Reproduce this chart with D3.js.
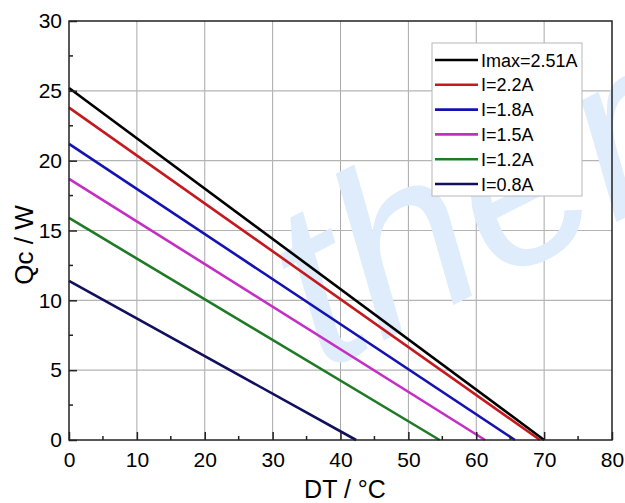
<!DOCTYPE html>
<html>
<head>
<meta charset="utf-8">
<script src="https://cdn.jsdelivr.net/npm/d3@7"></script>
<style>
  body { margin: 0; background: #fff; }
  text { font-family: "Liberation Sans", Arial, sans-serif; }
</style>
</head>
<body>
<div class="chartArea"></div>
<script>
// series: Qc at DT=0 and DT where Qc reaches 0
const seriesNames = ['Imax=2.51A', 'I=2.2A', 'I=1.8A', 'I=1.5A', 'I=1.2A', 'I=0.8A']
const qcAtZero = [25.2, 23.8, 21.2, 18.7, 15.9, 11.4]
const dtAtZero = [70.0, 69.4, 65.7, 61.3, 54.6, 42.3]
const colors = ['#000000', '#c41a1f', '#1313b4', '#c42ec4', '#1f7a26', '#10105c']
const xTicks = [0, 10, 20, 30, 40, 50, 60, 70, 80]
const yTicks = [0, 5, 10, 15, 20, 25, 30]

let width = 625,
    height = 503,
    plotLeft = 69,
    plotRight = 612,
    plotTop = 21,
    plotBottom = 440

const svg = d3.select('.chartArea')
    .append('svg')
    .attr('width', width)
    .attr('height', height)

const xScale = d3.scaleLinear().domain([0, 80]).range([plotLeft, plotRight])
const yScale = d3.scaleLinear().domain([0, 30]).range([plotBottom, plotTop])

// grid
svg.append('g')
    .selectAll('line')
    .data(xTicks.slice(1, -1))
    .enter()
    .append('line')
    .attr('x1', d => xScale(d)).attr('x2', d => xScale(d))
    .attr('y1', plotTop).attr('y2', plotBottom)
    .attr('stroke', '#a8a8a8')
    .attr('stroke-width', 1)

svg.append('g')
    .selectAll('line')
    .data(yTicks.slice(1, -1))
    .enter()
    .append('line')
    .attr('x1', plotLeft).attr('x2', plotRight)
    .attr('y1', d => yScale(d)).attr('y2', d => yScale(d))
    .attr('stroke', '#b4b4b4')
    .attr('stroke-width', 1.2)

// faint watermark behind the lines
svg.append('text')
    .attr('transform', 'translate(322,372) rotate(-27)')
    .attr('font-size', 235)
    .attr('font-style', 'italic')
    .attr('fill', '#deecfc')
    .text('therm')

// lines
const line = d3.line()
    .x(d => xScale(d[0]))
    .y(d => yScale(d[1]))

const lineData = seriesNames.map((name, i) => [[0, qcAtZero[i]], [dtAtZero[i], 0]])

svg.append('g')
    .selectAll('path')
    .data(lineData)
    .enter()
    .append('path')
    .attr('d', line)
    .attr('fill', 'none')
    .attr('stroke', (d, i) => colors[i])
    .attr('stroke-width', 2.6)

// frame
svg.append('rect')
    .attr('x', plotLeft).attr('y', plotTop)
    .attr('width', plotRight - plotLeft).attr('height', plotBottom - plotTop)
    .attr('fill', 'none')
    .attr('stroke', '#222')
    .attr('stroke-width', 1.5)

// axes, ticks pointing inward
const xAxis = d3.axisBottom(xScale).tickValues(xTicks).tickSize(-8).tickPadding(12)
const yAxis = d3.axisLeft(yScale).tickValues(yTicks).tickSize(-8).tickPadding(7)

const gx = svg.append('g')
    .attr('transform', `translate(0, ${plotBottom})`)
    .call(xAxis)
gx.select('.domain').remove()
gx.selectAll('text').attr('font-size', 21).attr('fill', '#000').attr('font-family', '"Liberation Sans", Arial, sans-serif')
gx.selectAll('line').attr('stroke', '#222').attr('stroke-width', 1.5)

const gy = svg.append('g')
    .attr('transform', `translate(${plotLeft}, 0)`)
    .call(yAxis)
gy.select('.domain').remove()
gy.selectAll('text').attr('font-size', 21).attr('fill', '#000').attr('font-family', '"Liberation Sans", Arial, sans-serif')
gy.selectAll('line').attr('stroke', '#222').attr('stroke-width', 1.5)

// minor ticks
svg.append('g')
    .selectAll('line')
    .data(d3.range(5, 80, 10))
    .enter()
    .append('line')
    .attr('x1', d => xScale(d)).attr('x2', d => xScale(d))
    .attr('y1', plotBottom).attr('y2', plotBottom - 4)
    .attr('stroke', '#222').attr('stroke-width', 1.5)

svg.append('g')
    .selectAll('line')
    .data(d3.range(2.5, 30, 5))
    .enter()
    .append('line')
    .attr('x1', plotLeft).attr('x2', plotLeft + 4)
    .attr('y1', d => yScale(d)).attr('y2', d => yScale(d))
    .attr('stroke', '#222').attr('stroke-width', 1.5)

// axis titles
svg.append('text')
    .attr('x', 345).attr('y', 498)
    .attr('text-anchor', 'middle')
    .attr('font-size', 25)
    .text('DT / °C')

svg.append('text')
    .attr('transform', 'translate(33, 245) rotate(-90)')
    .attr('text-anchor', 'middle')
    .attr('font-size', 26)
    .text('Qc / W')

// legend
const legend = svg.append('g')
legend.append('rect')
    .attr('x', 432).attr('y', 43)
    .attr('width', 150).attr('height', 153)
    .attr('fill', '#fff')
    .attr('stroke', '#b8b8b8')
    .attr('stroke-width', 1)

const rows = legend.selectAll('g.row')
    .data(seriesNames)
    .enter()
    .append('g')
    .attr('transform', (d, i) => `translate(0, ${60 + i * 24.8})`)

rows.append('line')
    .attr('x1', 435).attr('x2', 478)
    .attr('stroke', (d, i) => colors[i])
    .attr('stroke-width', 2.6)

rows.append('text')
    .attr('x', 481).attr('y', 6.5)
    .attr('font-size', 18)
    .text(d => d)
</script>
</body>
</html>
